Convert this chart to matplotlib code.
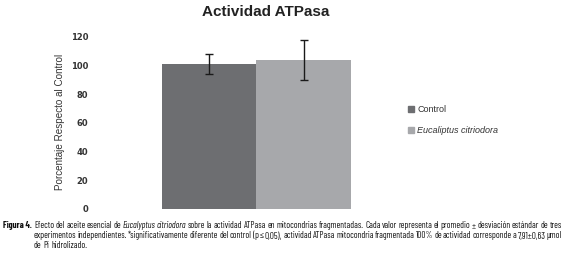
import matplotlib
matplotlib.use('Agg')
import matplotlib.pyplot as plt
import matplotlib.patches as mpatches

# datos
series = ['Control', 'Eucaliptus citriodora']
valores = [101, 104]
errores = [7, 14]
colores = ['#6d6e71', '#a7a8ab']
yticks = [0, 20, 40, 60, 80, 100, 120]

W, H = 564, 261
fig = plt.figure(figsize=(W / 100, H / 100), dpi=100)

def fx(px):
    return px / W

def fy(py):
    return 1 - py / H

# ejes: 0 en y=209 px, 120 en y=37 px
ax_l, ax_r = 95, 395
ax = fig.add_axes([fx(ax_l), fy(209), fx(ax_r - ax_l), fy(37) - fy(209)])
pos = list(range(len(series)))
ax.bar(pos, valores, width=1.0, color=colores, yerr=errores,
       error_kw=dict(ecolor='#1a1a1a', elinewidth=1.0, capsize=2.6, capthick=1.0))
# barras: centro 0 en x=209 px, ancho 94.5 px
ax.set_xlim((ax_l - 209) / 94.5, (ax_r - 209) / 94.5)
ax.set_ylim(0, 120)
ax.set_yticks(yticks)
ax.set_yticklabels([str(t) for t in yticks], fontsize=6, fontweight='bold', color='#333333')
ax.set_xticks([])
ax.tick_params(axis='y', length=0, pad=5)
for s in ax.spines.values():
    s.set_visible(False)

fig.text(fx(60), fy(122), 'Porcentaje Respecto al Control', rotation=90,
         ha='center', va='center', fontsize=7.1, color='#333333', family='Liberation Sans')

fig.text(fx(266), fy(12), 'Actividad ATPasa', ha='center', va='center',
         fontsize=11, fontweight='bold', color='#222222', family='Liberation Sans')

# leyenda
handles = [mpatches.Patch(color=c) for c in colores]
leg = fig.legend(handles, series, loc='center left', bbox_to_anchor=(fx(400), fy(120)),
                 frameon=False, fontsize=6.5, handlelength=0.7, handleheight=0.7,
                 handletextpad=0.3, labelspacing=1.3)
for t in leg.get_texts():
    t.set_color('#333333')
    t.set_family('Liberation Sans')
    t.set_fontsize(6.5)
leg.get_texts()[1].set_style('italic')

# pie de figura
cap_font = ['Barlow Condensed', 'DejaVu Sans']
cap_size = 6.5
renderer = fig.canvas.get_renderer()

def linea(palabras, x0, x1, y, justificar=True):
    objs = []
    for w, estilo in palabras:
        t = fig.text(0, fy(y + 2.5), w, fontsize=cap_size, family=cap_font,
                     style=estilo, va='baseline', ha='left', color='#111111')
        objs.append(t)
    anchos = [t.get_window_extent(renderer).width for t in objs]
    if justificar and len(objs) > 1:
        esp = (x1 - x0 - sum(anchos)) / (len(objs) - 1)
    else:
        esp = 2.0
    x = x0
    for t, a in zip(objs, anchos):
        t.set_x(fx(x))
        x += a + esp

def palabras(texto, italicas=()):
    out = []
    for w in texto.split():
        out.append((w, 'italic' if w in italicas else 'normal'))
    return out

fig.text(fx(3), fy(226 + 2.5), 'Figura 4.', fontsize=cap_size, family=cap_font,
         fontweight='bold', va='baseline', color='#111111')
l1 = ('Efecto del aceite esencial de Eucalyptus citriodora sobre la actividad ATPasa en '
      'mitocondrias fragmentadas. Cada valor representa el promedio ± desviación estándar de tres')
l2 = ('experimentos independientes. *significativamente diferente del control (p ≤ 0,05), '
      'actividad ATPasa mitocondria fragmentada 100% de actividad corresponde a 7,91±0,63 µmol')
l3 = 'de Pi hidrolizado.'
linea(palabras(l1, ('Eucalyptus', 'citriodora')), 34, 562, 226)
linea(palabras(l2), 34, 562, 236)
linea(palabras(l3), 34, 562, 245, justificar=False)

fig.savefig('out.png', dpi=100)
